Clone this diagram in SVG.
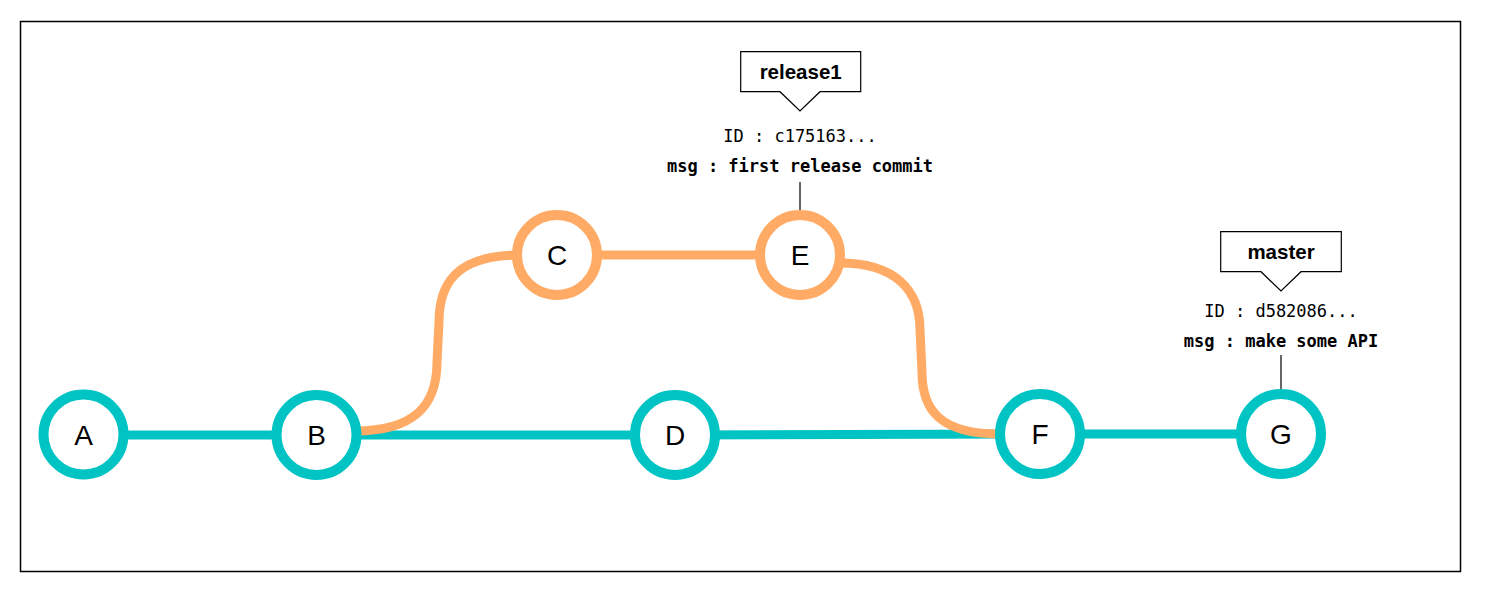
<svg xmlns="http://www.w3.org/2000/svg" width="1486" height="594" viewBox="0 0 1486 594">
<style>
.frame{fill:#fff;stroke:#000;stroke-width:1.5}
.m{fill:#fff;stroke:#00c4c4;stroke-width:10}
.r{fill:#fff;stroke:#ffab66;stroke-width:10}
.lm{fill:none;stroke:#00c4c4;stroke-width:9}
.lr{fill:none;stroke:#ffab66;stroke-width:9}
.lbl{font-family:"Liberation Sans",Arial,sans-serif;font-size:28px;fill:#000;text-anchor:middle}
.tag{fill:#fff;stroke:#000;stroke-width:1.2}
.tagt{font-family:"Liberation Sans",Arial,sans-serif;font-size:20.5px;font-weight:bold;fill:#000;text-anchor:middle}
.id{font-family:"DejaVu Sans Mono",monospace;font-size:17px;fill:#000;text-anchor:middle}
.msg{font-family:"DejaVu Sans Mono",monospace;font-size:17px;font-weight:bold;fill:#000;text-anchor:middle}
.stem{stroke:#333;stroke-width:1.5}
</style>
<rect class="frame" x="20.5" y="21.5" width="1440" height="550"/>
<g id="connectors">
<line class="lm" x1="84" y1="435" x2="316" y2="435"/>
<line class="lm" x1="316" y1="435" x2="675" y2="435"/>
<line class="lm" x1="675" y1="435" x2="1040" y2="434"/>
<line class="lm" x1="1040" y1="434" x2="1281" y2="434"/>
<path class="lr" d="M355,431 C415,431 437,405 437,362 L439,322 C439,285 455,255 520,255"/>
<line class="lr" x1="557" y1="255" x2="800" y2="255"/>
<path class="lr" d="M840,263 C895,263 920,290 920,330 L922,372 C922,410 940,434 1000,434"/>
<line class="stem" x1="800" y1="182" x2="800" y2="210"/>
<line class="stem" x1="1281" y1="355" x2="1281" y2="390"/>
</g>
<g id="A"><circle class="m" cx="83.5" cy="434.5" r="40"/><text class="lbl" x="83.5" y="444.5">A</text></g>
<g id="B"><circle class="m" cx="316.5" cy="435" r="40"/><text class="lbl" x="316.5" y="445">B</text></g>
<g id="C"><circle class="r" cx="557" cy="255" r="40"/><text class="lbl" x="557" y="265">C</text></g>
<g id="D"><circle class="m" cx="675" cy="435" r="40"/><text class="lbl" x="675" y="445">D</text></g>
<g id="E"><circle class="r" cx="800" cy="255" r="40"/><text class="lbl" x="800" y="265">E</text></g>
<g id="F"><circle class="m" cx="1040" cy="434" r="40"/><text class="lbl" x="1040" y="444">F</text></g>
<g id="G"><circle class="m" cx="1281" cy="434" r="40"/><text class="lbl" x="1281" y="444">G</text></g>
<g id="release1">
<path class="tag" d="M740.7,51.7 H860.7 V91.7 H820 L800,111 L780,91.7 H740.7 Z"/>
<text class="tagt" x="800.7" y="78.5">release1</text>
<text class="id" x="800" y="141.7">ID : c175163...</text>
<text class="msg" x="800" y="171.7">msg : first release commit</text>
</g>
<g id="master">
<path class="tag" d="M1220.7,231.7 H1341.3 V271.7 H1301 L1281,291 L1261,271.7 H1220.7 Z"/>
<text class="tagt" x="1281" y="258.5">master</text>
<text class="id" x="1281" y="316.7">ID : d582086...</text>
<text class="msg" x="1281" y="346.7">msg : make some API</text>
</g>
</svg>
